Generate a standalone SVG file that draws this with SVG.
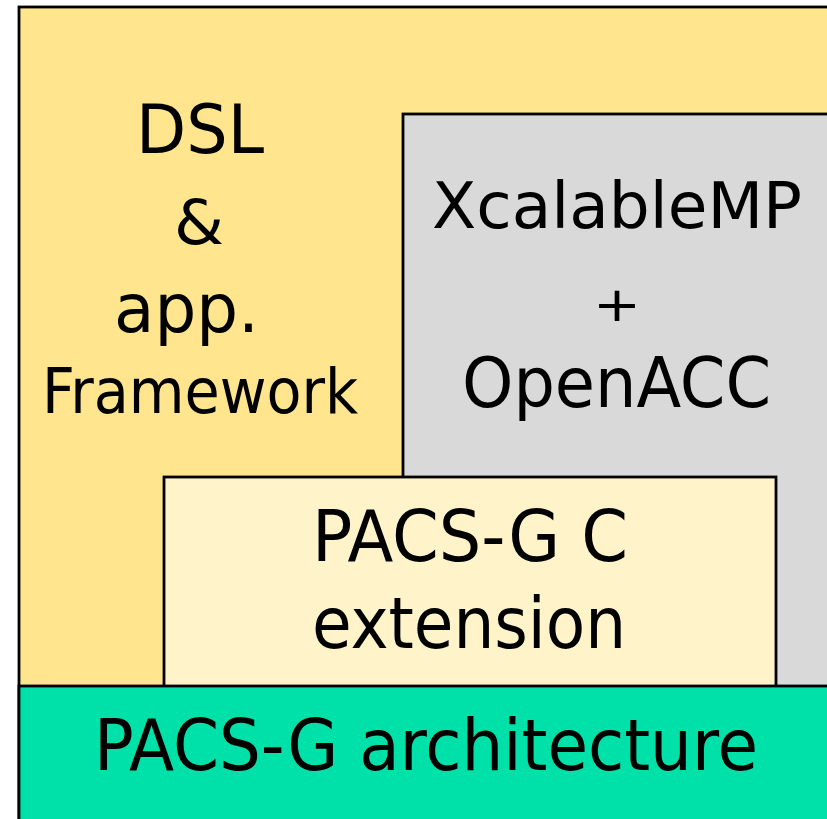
<svg xmlns="http://www.w3.org/2000/svg" width="827" height="819" viewBox="0 0 827 819">
<style>
.box{stroke:#000;stroke-width:2.8}
.t{font-family:"DejaVu Sans Condensed","DejaVu Sans",Verdana,sans-serif;fill:#000}
</style>
<rect width="827" height="819" fill="#ffffff"/>
<g id="dsl">
<rect class="box" x="19" y="7" width="840" height="840" fill="#FFE68E"/>
<text class="t" x="136" y="153" font-size="68" textLength="128" lengthAdjust="spacingAndGlyphs">DSL</text>
<text class="t" x="174" y="244" font-size="62" textLength="50" lengthAdjust="spacingAndGlyphs">&amp;</text>
<text class="t" x="114" y="332" font-size="68" textLength="145" lengthAdjust="spacingAndGlyphs">app.</text>
<text class="t" x="42" y="413" font-size="62" textLength="316" lengthAdjust="spacingAndGlyphs">Framework</text>
</g>
<g id="xmp">
<rect class="box" x="403" y="114" width="440" height="600" fill="#D9D9D9"/>
<text class="t" x="432" y="228" font-size="64" textLength="370" lengthAdjust="spacingAndGlyphs">XcalableMP</text>
<text class="t" x="593" y="321" font-size="48" textLength="48" lengthAdjust="spacingAndGlyphs">+</text>
<text class="t" x="462" y="407" font-size="70" textLength="309" lengthAdjust="spacingAndGlyphs">OpenACC</text>
</g>
<g id="pacsgc">
<rect class="box" x="164" y="477" width="612" height="220" fill="#FFF3CA"/>
<text class="t" x="312" y="561" font-size="72" textLength="316" lengthAdjust="spacingAndGlyphs">PACS-G C</text>
<text class="t" x="312" y="648" font-size="72" textLength="314" lengthAdjust="spacingAndGlyphs">extension</text>
</g>
<g id="arch">
<rect class="box" x="19" y="686" width="840" height="200" fill="#00E1A9"/>
<text class="t" x="94" y="770" font-size="72" textLength="664" lengthAdjust="spacingAndGlyphs">PACS-G architecture</text>
</g>
<g id="connectors"/>
</svg>
